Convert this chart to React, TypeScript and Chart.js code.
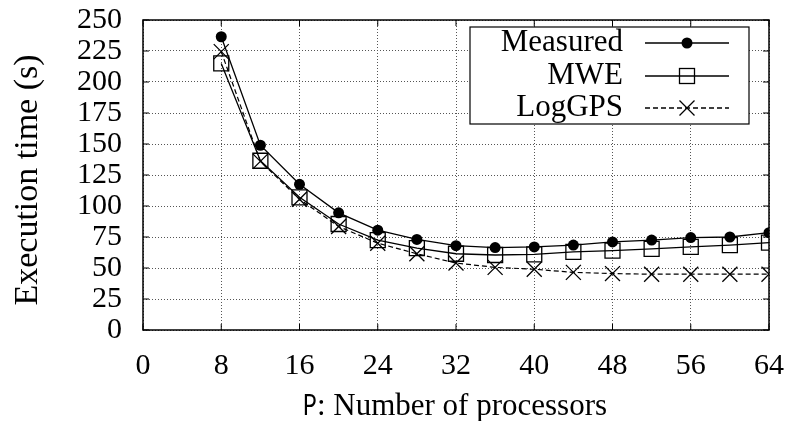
import React, { useEffect, useRef } from "react";
import { Chart, registerables } from "chart.js";

Chart.register(...registerables);

const processors = [8, 12, 16, 20, 24, 28, 32, 36, 40, 44, 48, 52, 56, 60, 64];
const measured = [236.5, 149, 117.5, 94.5, 80.5, 73, 68, 66.5, 67, 68.5, 71, 72.5, 74.5, 75, 78.5];
const mwe = [215, 136.5, 107, 85.5, 72.5, 66, 61.5, 60.5, 61, 63, 64, 65.5, 67, 68.5, 70.5];
const loggps = [224.5, 136, 105.5, 83.5, 70, 61.5, 54, 50.5, 49, 46.5, 45.5, 45, 45, 45, 45];
const seriesNames = ["Measured", "MWE", "LogGPS"];
const xTitleMono = "P";
const xTitleRest = ": Number of processors";
const yTitle = "Execution time (s)";

const SERIF = "'Liberation Serif', 'DejaVu Serif', serif";

function drawMarker(ctx: CanvasRenderingContext2D, kind: number, x: number, y: number) {
  ctx.save();
  ctx.setLineDash([]);
  ctx.strokeStyle = "#000";
  ctx.fillStyle = "#000";
  ctx.lineWidth = 1.3;
  if (kind === 0) {
    ctx.beginPath();
    ctx.arc(x, y, 5.5, 0, Math.PI * 2);
    ctx.fill();
  } else if (kind === 1) {
    ctx.strokeRect(x - 7.5, y - 7.5, 15, 15);
  } else {
    const h = 7.5;
    ctx.beginPath();
    ctx.moveTo(x - h, y - h);
    ctx.lineTo(x + h, y + h);
    ctx.moveTo(x - h, y + h);
    ctx.lineTo(x + h, y - h);
    ctx.stroke();
  }
  ctx.restore();
}

const framePlugin = {
  id: "framePlugin",
  afterDraw(chart: any) {
    const ctx: CanvasRenderingContext2D = chart.ctx;
    const { left, right, top, bottom } = chart.chartArea;
    const xs = chart.scales.x;
    const ys = chart.scales.y;
    ctx.save();
    // inner ticks
    ctx.strokeStyle = "#000";
    ctx.lineWidth = 1;
    ctx.setLineDash([]);
    const tl = 6;
    ctx.beginPath();
    xs.ticks.forEach((t: any) => {
      const px = xs.getPixelForValue(t.value);
      ctx.moveTo(px, bottom);
      ctx.lineTo(px, bottom - tl);
      ctx.moveTo(px, top);
      ctx.lineTo(px, top + tl);
    });
    ys.ticks.forEach((t: any) => {
      const py = ys.getPixelForValue(t.value);
      ctx.moveTo(left, py);
      ctx.lineTo(left + tl, py);
      ctx.moveTo(right, py);
      ctx.lineTo(right - tl, py);
    });
    ctx.stroke();
    // border
    ctx.lineWidth = 1.5;
    ctx.strokeRect(left, top, right - left, bottom - top);

    // legend
    const bx0 = 470, by0 = 27, bx1 = 749, by1 = 124;
    ctx.fillStyle = "#fff";
    ctx.fillRect(bx0, by0, bx1 - bx0, by1 - by0);
    ctx.lineWidth = 1.2;
    ctx.strokeStyle = "#000";
    ctx.strokeRect(bx0, by0, bx1 - bx0, by1 - by0);
    const rows = [43, 76, 108];
    ctx.font = `31px ${SERIF}`;
    ctx.fillStyle = "#000";
    ctx.textAlign = "right";
    ctx.textBaseline = "middle";
    seriesNames.forEach((name, i) => {
      const yy = rows[i];
      ctx.fillText(name, 623, yy);
      ctx.beginPath();
      ctx.lineWidth = 1.3;
      ctx.setLineDash(i === 2 ? [5, 3] : []);
      ctx.moveTo(645, yy);
      ctx.lineTo(729, yy);
      ctx.stroke();
      ctx.setLineDash([]);
      drawMarker(ctx, i, 687, yy);
    });

    // axis titles
    ctx.fillStyle = "#000";
    ctx.textBaseline = "alphabetic";
    ctx.font = `31px 'Liberation Mono', monospace`;
    const monoW = ctx.measureText(xTitleMono).width * 0.75;
    ctx.font = `31px ${SERIF}`;
    const restW = ctx.measureText(xTitleRest).width;
    const total = monoW + restW;
    const cx = 455;
    const startX = cx - total / 2;
    ctx.textAlign = "left";
    ctx.save();
    ctx.font = `31px 'Liberation Mono', monospace`;
    ctx.translate(startX, 415);
    ctx.scale(0.75, 1);
    ctx.fillText(xTitleMono, 0, 0);
    ctx.restore();
    ctx.font = `31px ${SERIF}`;
    ctx.fillText(xTitleRest, startX + monoW, 415);

    ctx.save();
    ctx.translate(37, 180);
    ctx.rotate(-Math.PI / 2);
    ctx.font = `34px ${SERIF}`;
    ctx.textAlign = "center";
    ctx.fillText(yTitle, 0, 0);
    ctx.restore();

    ctx.restore();
  },
};

export default function App() {
  const canvasRef = useRef<HTMLCanvasElement | null>(null);

  useEffect(() => {
    document.body.style.margin = "0";
    const canvas = canvasRef.current;
    if (!canvas) return;
    const mk = (x: number[], y: number[]) => x.map((v, i) => ({ x: v, y: y[i] }));
    const chart = new Chart(canvas, {
      type: "line",
      data: {
        datasets: [
          {
            label: seriesNames[2],
            data: mk(processors, loggps),
            borderColor: "#000",
            borderWidth: 1.2,
            borderDash: [5, 3],
            pointStyle: "crossRot",
            pointRadius: 10.6,
            pointBorderWidth: 1.3,
            pointBorderColor: "#000",
            pointBackgroundColor: "#000",
            fill: false,
            tension: 0,
          },
          {
            label: seriesNames[1],
            data: mk(processors, mwe),
            borderColor: "#000",
            borderWidth: 1.3,
            pointStyle: "rect",
            pointRadius: 10.6,
            pointBorderWidth: 1.3,
            pointBorderColor: "#000",
            pointBackgroundColor: "rgba(0,0,0,0)",
            fill: false,
            tension: 0,
          },
          {
            label: seriesNames[0],
            data: mk(processors, measured),
            borderColor: "#000",
            borderWidth: 1.3,
            pointStyle: "circle",
            pointRadius: 5.5,
            pointBorderWidth: 0,
            pointBackgroundColor: "#000",
            fill: false,
            tension: 0,
          },
        ],
      },
      options: {
        animation: false,
        responsive: false,
        maintainAspectRatio: false,
        layout: { padding: { top: 20, right: 20, left: 0, bottom: 0 } },
        plugins: {
          legend: { display: false },
          tooltip: { enabled: false },
          title: { display: false },
        },
        scales: {
          x: {
            type: "linear",
            min: 0,
            max: 64,
            afterFit: (s: any) => {
              s.height = 91;
              s.paddingLeft = 0;
              s.paddingRight = 0;
            },
            ticks: {
              stepSize: 8,
              color: "#000",
              font: { family: SERIF, size: 30 },
              padding: 18,
              maxRotation: 0,
              autoSkip: false,
            },
            grid: { color: "#555", lineWidth: 1, drawTicks: false },
            border: { display: false, dash: [1, 2] },
          },
          y: {
            min: 0,
            max: 250,
            afterFit: (s: any) => {
              s.width = 143;
              s.paddingTop = 0;
              s.paddingBottom = 0;
            },
            ticks: {
              stepSize: 25,
              color: "#000",
              font: { family: SERIF, size: 30 },
              padding: 21,
              autoSkip: false,
            },
            grid: { color: "#555", lineWidth: 1, drawTicks: false },
            border: { display: false, dash: [1, 2] },
          },
        },
      },
      plugins: [framePlugin],
    } as any);
    return () => chart.destroy();
  }, []);

  return (
    <div style={{ width: 789, height: 421 }}>
      <canvas ref={canvasRef} width={789} height={421} style={{ display: "block" }} />
    </div>
  );
}
